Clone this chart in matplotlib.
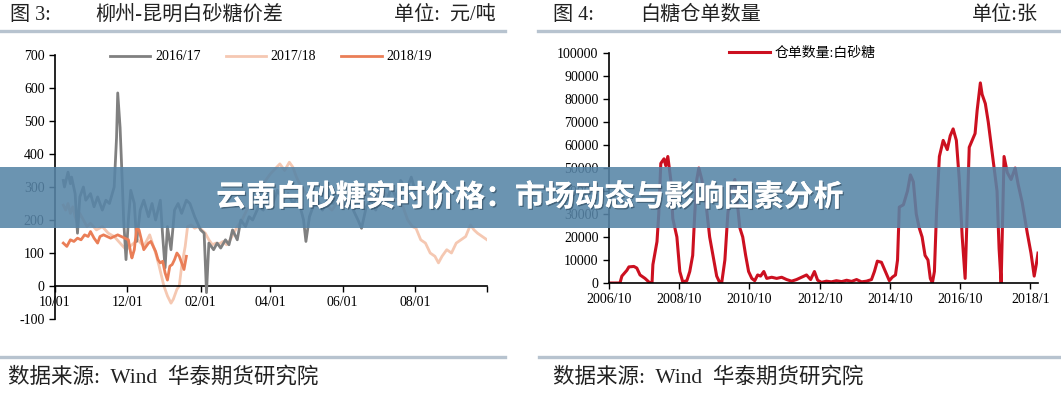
import numpy as np
import matplotlib
matplotlib.use("Agg")
import matplotlib.pyplot as plt
from matplotlib.patches import Rectangle
from matplotlib.lines import Line2D
import matplotlib.patheffects as pe

MIX = ['Liberation Serif', 'Noto Sans CJK SC']
plt.rcParams['font.family'] = MIX
plt.rcParams['axes.unicode_minus'] = False

# ---- figure 3: 柳州-昆明白砂糖价差 (days since 10/01) ----
days_1617 = [7, 8, 11, 13, 14, 17, 19, 21, 24, 26, 30, 33, 36, 40, 43, 46, 50, 52, 53, 55, 57, 58, 60, 62,
             64, 67, 69, 72, 75, 79, 82, 85, 89, 91, 93, 95, 98, 101, 104, 107, 111, 114, 118, 123, 126,
             128, 130, 134, 137, 140, 144, 147, 150, 154, 157, 161, 164, 167, 172, 176, 180, 184, 188,
             193, 197, 201, 205, 210, 212, 215, 218, 222, 226, 231, 235, 239, 243, 248, 252, 256, 259,
             263, 267, 271, 275, 280, 284, 288, 292, 297, 301, 305, 308]
vals_1617 = [320, 300, 345, 310, 330, 280, 160, 270, 300, 260, 280, 240, 270, 230, 260, 250, 300, 450, 585,
             480, 300, 200, 80, 200, 290, 250, 135, 230, 260, 210, 250, 200, 260, 150, 55, 180, 110, 230,
             250, 220, 260, 250, 210, 170, 160, -20, 130, 110, 130, 115, 140, 125, 170, 140, 200, 180, 210,
             200, 240, 230, 270, 250, 290, 260, 280, 250, 270, 200, 135, 210, 240, 260, 230, 270, 250, 280,
             240, 260, 230, 200, 175, 240, 260, 230, 280, 250, 300, 270, 320, 290, 330, 280, 250]

days_1718 = [7, 9, 11, 13, 15, 17, 19, 21, 24, 27, 30, 35, 40, 45, 50, 55, 60, 65, 70, 75, 80, 85, 88, 92,
             95, 98, 100, 103, 105, 107, 110, 112, 115, 118, 121, 124, 127, 130, 133, 136, 139, 142, 145,
             148, 151, 154, 158, 162, 166, 170, 174, 178, 182, 186, 190, 194, 198, 201, 204, 208, 212, 217,
             222, 228, 234, 240, 246, 252, 258, 264, 270, 276, 282, 288, 294, 298, 302, 305, 309, 313, 317,
             321, 324, 327, 331, 335, 339, 343, 347, 351, 354, 357, 361, 365]
vals_1718 = [245, 230, 250, 220, 240, 210, 190, 220, 200, 180, 190, 170, 180, 160, 150, 130, 110, 125, 140,
             120, 155, 100, 60, 0, -30, -52, -40, -10, 0, 60, 120, 180, 185, 175, 180, 170, 160, 140, 125,
             130, 128, 135, 125, 140, 160, 180, 200, 230, 250, 270, 290, 320, 340, 355, 370, 350, 375, 360,
             330, 300, 280, 260, 240, 250, 230, 260, 240, 270, 250, 280, 260, 290, 270, 260, 240, 200, 180,
             175, 140, 130, 100, 90, 70, 90, 110, 100, 130, 140, 150, 185, 170, 160, 150, 140]

days_1819 = [7, 10, 13, 16, 19, 22, 25, 28, 30, 33, 36, 38, 41, 44, 47, 50, 53, 56, 59, 62, 64, 65, 67, 69,
             71, 73, 75, 77, 79, 81, 83, 85, 87, 89, 91, 93, 95, 97, 99, 101, 103, 105, 107, 109, 111]
vals_1819 = [130, 120, 140, 135, 145, 140, 155, 150, 165, 145, 130, 150, 155, 150, 145, 150, 155, 150, 145,
             140, 100, 85, 110, 175, 170, 140, 110, 120, 130, 135, 120, 105, 80, 70, 75, 40, 18, 60, 65,
             80, 100, 90, 70, 50, 90]

ticks_left = [0, 61, 123, 182, 243, 304, 365]
labels_left = ['10/01', '12/01', '02/01', '04/01', '06/01', '08/01', '']

# ---- figure 4: 白糖仓单数量 (months since 2006/10) ----
months_wr = [0, 2, 3.75, 4.4, 6.1, 6.8, 8.5, 9.5, 10.6, 12.3, 14, 14.7, 15, 16.4, 17, 17.7, 18.8, 19.4,
             20.1, 21.1, 21.8, 23.2, 24.2, 25.2, 26.6, 27.6, 28.6, 29.3, 30, 30.7, 31.7, 33.1, 34.4, 35.8,
             36.8, 37.9, 38.5, 39.6, 40.6, 41.6, 43, 44, 44.7, 45.7, 46.7, 47.7, 48.8, 49.8, 50.8, 51.8,
             52.9, 53.9, 55.6, 57.3, 59, 60.7, 62.4, 64.1, 65.8, 67.5, 68.9, 70.2, 71.3, 72.6, 74.3, 76,
             77.7, 79.5, 81.2, 82.9, 84.6, 86.3, 88, 89.7, 90.7, 91.7, 93.1, 94.1, 94.8, 95.8, 96.8, 97.9,
             98.6, 99.2, 100.6, 102, 103, 104, 105, 106, 107, 108, 109, 109.8, 110.5, 111.2, 111.9, 112.9,
             114.2, 115.6, 116.6, 117.6, 118.7, 119.7, 120.7, 121.7, 122.4, 123.1, 124.1, 125.1, 125.8,
             126.9, 127.5, 128.6, 129.6, 130.6, 131.6, 132.6, 133.3, 134, 134.7, 135, 136.1, 137.4, 138.8,
             139.8, 141.2, 142.9, 144.2, 145.3, 146, 146.6]
receipts = [0, 0, 0, 3000, 5500, 7000, 7200, 6500, 3500, 2000, 0, 0, 8000, 18000, 30000, 52000, 54000,
            51000, 55000, 45000, 28000, 20000, 5000, 500, 1000, 5000, 12000, 30000, 45000, 50000, 45000,
            35000, 20000, 10000, 3000, 0, 0, 10000, 30000, 40000, 45000, 33000, 24000, 20000, 12000, 5000,
            2000, 1000, 3500, 3000, 5000, 2000, 2500, 2000, 2500, 1500, 800, 1500, 2500, 3500, 1500, 5000,
            1200, 300, 800, 500, 1000, 600, 1200, 700, 1500, 500, 800, 1500, 5000, 9500, 9000, 6000, 4000,
            1000, 2500, 3500, 10000, 33000, 34000, 40000, 47000, 44000, 30000, 24000, 20000, 12000, 10000,
            2000, 0, 5000, 30000, 55000, 62000, 58000, 64000, 67000, 62000, 45000, 20000, 2000, 30000,
            59000, 62000, 65000, 75000, 87000, 82000, 78000, 70000, 60000, 50000, 40000, 15000, 0, 40000,
            55000, 48000, 45000, 50000, 43000, 35000, 22000, 13000, 3000, 8000, 13000]

ticks_right = [0, 24, 48, 72, 96, 120, 144]
labels_right = ['2006/10', '2008/10', '2010/10', '2012/10', '2014/10', '2016/10', '2018/1']

W, H = 1061, 394
fig = plt.figure(figsize=(W / 100, H / 100), dpi=100)


def fx(px):
    return px / W


def fy(py):
    return 1 - py / H


def style_axes(ax):
    ax.spines['top'].set_visible(False)
    ax.spines['right'].set_visible(False)
    ax.tick_params(direction='out', length=4, width=1, labelsize=10, colors='black')
    for s in ['left', 'bottom']:
        ax.spines[s].set_linewidth(1.2)


# left chart
ax1 = fig.add_axes([fx(55), fy(319), fx(432), 264 / H])
ax1.plot(days_1617, vals_1617, color='#808080', lw=2.0, label='2016/17', zorder=3)
ax1.plot(days_1718, vals_1718, color='#f5c8b2', lw=2.0, label='2017/18', zorder=2)
ax1.plot(days_1819, vals_1819, color='#ea7e57', lw=2.0, label='2018/19', zorder=4)
ax1.set_xlim(0, 365)
ax1.set_ylim(-100, 700)
ax1.set_yticks(np.arange(-100, 701, 100))
ax1.set_xticks(ticks_left)
ax1.set_xticklabels(labels_left)
ax1.spines['bottom'].set_position(('data', 0))
style_axes(ax1)
ax1.legend(loc='center', bbox_to_anchor=(fx(271), fy(57)), bbox_transform=fig.transFigure, ncol=3,
           frameon=False, fontsize=10, handlelength=2.9, handletextpad=0.35, columnspacing=1.8)

# right chart
ax2 = fig.add_axes([fx(609), fy(283), fx(429), 230 / H])
ax2.plot(months_wr, receipts, color='#cc1020', lw=2.2, label='仓单数量:白砂糖')
ax2.set_xlim(0, 146.6)
ax2.set_ylim(0, 100000)
ax2.set_yticks(np.arange(0, 100001, 10000))
ax2.set_xticks(ticks_right)
ax2.set_xticklabels(labels_right)
style_axes(ax2)
ax2.legend(loc='center', bbox_to_anchor=(fx(802), fy(53)), bbox_transform=fig.transFigure,
           frameon=False, fontsize=10, handlelength=3.0, handletextpad=0.3)

# headers and footers
hdr = dict(fontsize=14.5, va='center', color='#222222')
fig.text(fx(10), fy(15), '图 3:', **hdr)
fig.text(fx(95), fy(15), '柳州-昆明白砂糖价差', **hdr)
fig.text(fx(496), fy(15), '单位:  元/吨', ha='right', **hdr)
fig.text(fx(553), fy(15), '图 4:', **hdr)
fig.text(fx(640), fy(15), '白糖仓单数量', **hdr)
fig.text(fx(1038), fy(15), '单位:张', ha='right', **hdr)

line_col = '#b7c3cf'
for x0, x1, y in [(0, 505, 31), (538, 1061, 31), (0, 505, 357), (539, 1061, 357)]:
    fig.add_artist(Line2D([fx(x0), fx(x1)], [fy(y), fy(y)], color=line_col, lw=2.4,
                          transform=fig.transFigure))

ftr = dict(fontsize=15.5, va='center', color='#222222')
fig.text(fx(8), fy(377), '数据来源:  Wind  华泰期货研究院', **ftr)
fig.text(fx(553), fy(377), '数据来源:  Wind  华泰期货研究院', **ftr)

# overlay banner
fig.add_artist(Rectangle((0, fy(228)), 1, 61 / H, transform=fig.transFigure,
                         facecolor='#5785a7', alpha=0.88, edgecolor='none', zorder=10))
t = fig.text(0.4995, fy(197), '云南白砂糖实时价格：市场动态与影响因素分析', ha='center', va='center',
             fontsize=21.5, fontweight='bold', color='white', family='Noto Sans CJK SC', zorder=11)
t.set_path_effects([pe.withSimplePatchShadow(offset=(1, -1), shadow_rgbFace='#2b4458', alpha=0.6),
                    pe.Normal()])

fig.savefig('out.png', dpi=100)
